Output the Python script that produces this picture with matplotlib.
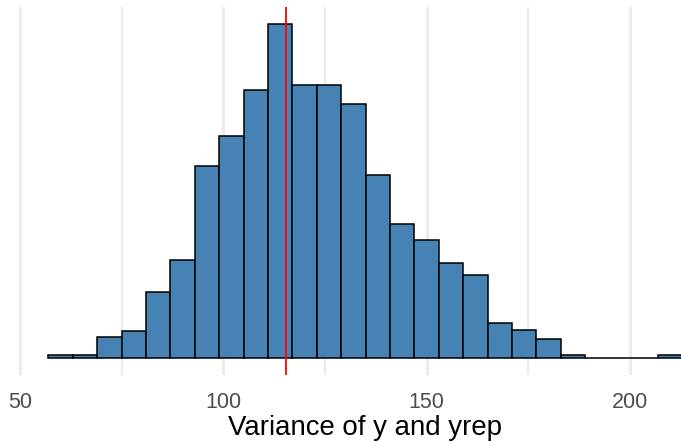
import numpy as np
import matplotlib.pyplot as plt

# --- DATA ---
bin_start = 56.96
bin_width = 6.0
counts = [4, 4, 26, 33, 80, 119, 232, 268, 323, 403, 330, 330, 307, 221,
          162, 143, 115, 100, 43, 34, 23, 4, 0, 0, 0, 4]
observed_var = 115.5
x_ticks = [50, 100, 150, 200]
x_minor = [75, 125, 175]

edges = bin_start + bin_width * np.arange(len(counts) + 1)

plt.rcParams['font.family'] = ['Liberation Sans', 'DejaVu Sans']

fig = plt.figure(figsize=(6.81, 4.41), dpi=100)
ax = fig.add_axes([0, 1 - 375 / 441, 1, (375 - 7.3) / 441])

for v in x_ticks:
    ax.axvline(v, color='#EBEBEB', lw=2.0, zorder=0)
for v in x_minor:
    ax.axvline(v, color='#EBEBEB', lw=1.6, zorder=0)

ax.bar(edges[:-1], counts, width=bin_width, align='edge',
       color='#4682B4', edgecolor='black', linewidth=1.1, zorder=2)
ax.axvline(observed_var, color='red', lw=1.3, zorder=3)

ymax = max(counts)
ax.set_ylim(-0.05 * ymax, 1.05 * ymax)
ax.set_xlim(50 - 20 / 4.067, 50 - 20 / 4.067 + 681 / 4.067)

ax.set_xticks(x_ticks)
ax.set_xticklabels([str(t) for t in x_ticks], fontsize=15.5, color='#4D4D4D')
ax.tick_params(axis='x', length=0, pad=12)
ax.set_yticks([])
for s in ax.spines.values():
    s.set_visible(False)

fig.text(365 / 681, (441 - 435) / 441, 'Variance of y and yrep',
         ha='center', va='baseline', fontsize=19.9, color='black')

fig.savefig('out.png', dpi=100)
